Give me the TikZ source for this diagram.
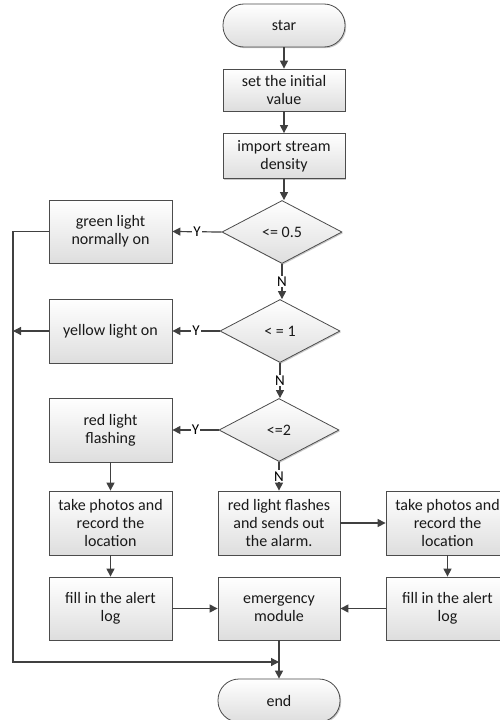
\documentclass[tikz,border=0pt]{standalone}
\usepackage{fontspec}
\setmainfont{Carlito}
\usetikzlibrary{shapes.geometric,arrows.meta,shadows}
\begin{document}
\begin{tikzpicture}[x=1pt,y=-1pt,
  base/.style={draw=black!70, line width=0.8pt, top color=white, bottom color=black!13,
    align=center, font=\fontsize{16}{18}\selectfont, inner sep=0pt, text=black!90,
    drop shadow={shadow xshift=1.2pt, shadow yshift=-1.2pt, fill=black!35, opacity=0.6}},
  box/.style={base, rectangle, minimum width=123pt, minimum height=63pt},
  term/.style={base, rectangle, rounded corners=21pt, minimum width=122pt, minimum height=43pt},
  dec/.style={base, diamond, aspect=2, minimum width=120pt, minimum height=63pt},
  conn/.style={draw=black!75, line width=1.2pt},
  arr/.style={conn, -{Triangle[length=8pt,width=8pt]}},
  lab/.style={fill=white, inner sep=1pt, font=\fontsize{15}{16}\selectfont}
]
\clip (0,0) rectangle (500,720);
\fill[white] (0,0) rectangle (500,720);

\node[term] (star) at (284,25.5) {star};
\node[box, minimum width=122pt, minimum height=42pt] (init) at (284,90) {set the initial\\value};
\node[box, minimum width=122pt, minimum height=45pt] (import) at (284,156) {import stream\\density};
\node[dec] (d1) at (282,232) {<= 0.5};
\node[box] (green) at (110.5,231.5) {green light\\normally on};
\node[dec] (d2) at (280,331) {< = 1};
\node[box, minimum height=64pt] (yellow) at (110.5,331) {yellow light on};
\node[dec] (d3) at (279,430) {<=2};
\node[box, minimum height=64pt] (red) at (110.5,430) {red light\\flashing};
\node[box, minimum height=64pt] (photos1) at (110.5,523) {take photos and\\record the\\location};
\node[box, minimum width=122pt, minimum height=64pt] (alarm) at (279,523) {red light flashes\\and sends out\\the alarm.};
\node[box, minimum height=64pt] (photos2) at (447.5,523) {take photos and\\record the\\location};
\node[box] (fill1) at (110.5,608.5) {fill in the alert\\log};
\node[box, minimum width=122pt] (emerg) at (279,608.5) {emergency\\module};
\node[box] (fill2) at (447.5,608.5) {fill in the alert\\log};
\node[term] (end) at (279,700.5) {end};

\coordinate (lx) at (13,0);
\coordinate (join) at (279,662);

\draw[arr] (star) -- (init);
\draw[arr] (init) -- (import);
\draw[arr] (import.south) -- (import.south |- d1.north);
\draw[arr] (d1.west) -- node[lab, pos=0.5] {Y} (green.east);
\draw[arr] (d1.south) -- node[lab] {N} (d1.south |- d2.north);
\draw[arr] (d2.west) -- node[lab, pos=0.5] {Y} (yellow.east);
\draw[arr] (d2.south) -- node[lab] {N} (d2.south |- d3.north);
\draw[arr] (d3.west) -- node[lab, pos=0.5] {Y} (red.east);
\draw[arr] (d3.south) -- node[lab] {N} (alarm.north);
\draw[arr] (red) -- (photos1);
\draw[arr] (photos1) -- (fill1);
\draw[arr] (alarm) -- (photos2);
\draw[arr] (photos2) -- (fill2);
\draw[arr] (fill1) -- (emerg);
\draw[arr] (fill2) -- (emerg);
\draw[arr] (emerg) -- (end);
\draw[arr] (yellow.west) -- (yellow.west -| lx);
\draw[arr] (green.west) -- (green.west -| lx) -- (lx |- join) -- (join);
\end{tikzpicture}
\end{document}
